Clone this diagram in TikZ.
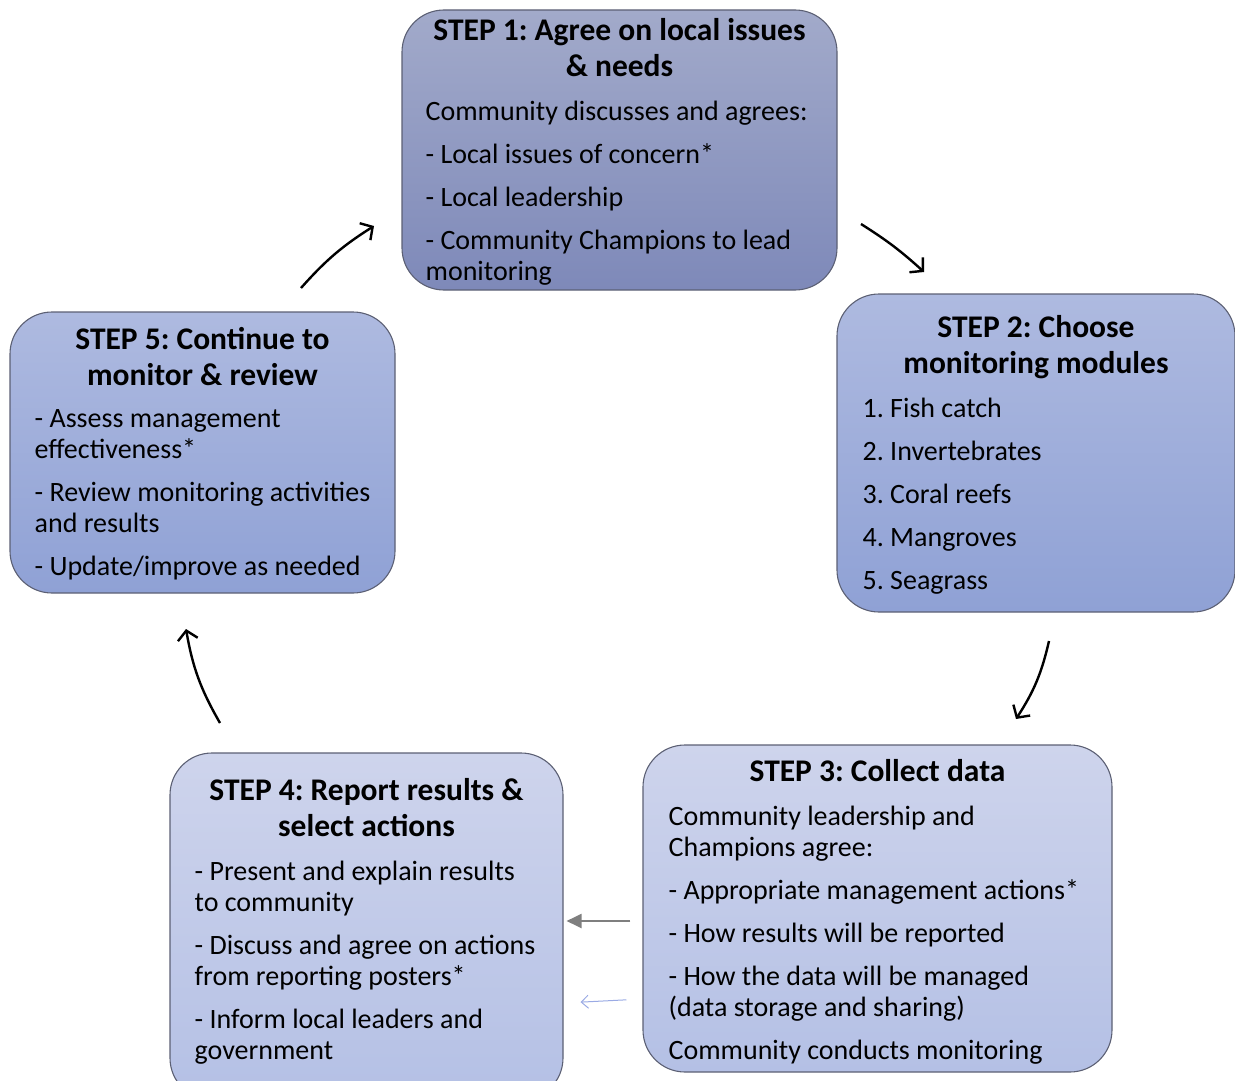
\documentclass[tikz,border=0pt]{standalone}
\usepackage{fontspec}
\setmainfont{Carlito}
\usetikzlibrary{positioning,arrows.meta}
\definecolor{boxline}{HTML}{5C6074}
\definecolor{deeptop}{HTML}{A2AACA}
\definecolor{deepbot}{HTML}{7E89B9}
\definecolor{midtop}{HTML}{AEBAE0}
\definecolor{midbot}{HTML}{8FA1D5}
\definecolor{paletop}{HTML}{CED4EC}
\definecolor{palebot}{HTML}{B4C0E5}
\definecolor{linkgrey}{HTML}{7F7F7F}
\definecolor{linkblue}{HTML}{9AAAE4}
\tikzset{
  stepbox/.style={
    rectangle, rounded corners=42pt,
    draw=boxline, line width=1.1pt
  },
  deepfill/.style={top color=deeptop, bottom color=deepbot},
  midfill/.style={top color=midtop, bottom color=midbot},
  palefill/.style={top color=paletop, bottom color=palebot},
  steptitle/.style={
    font=\fontsize{31.5}{36}\selectfont\bfseries\frenchspacing,
    align=center, inner sep=0pt, anchor=north
  },
  stepbody/.style={
    font=\fontsize{28}{31}\selectfont\frenchspacing,
    align=left, inner sep=0pt, anchor=north west
  },
  cyclearrow/.style={
    -{Straight Barb[length=9pt,width=20pt]},
    line width=2.4pt, black
  },
}

\begin{document}
\begin{tikzpicture}[x=1pt,y=-1pt]
  \useasboundingbox (0,0) rectangle (1235,1081);

  % the five steps
  \node[stepbox, deepfill, minimum width=435pt, minimum height=280pt] (s1) at (619.5,150) {};
  \node[stepbox, midfill, minimum width=398pt, minimum height=318pt] (s2) at (1036,453) {};
  \node[stepbox, palefill, minimum width=469pt, minimum height=327pt] (s3) at (877.5,908.5) {};
  \node[stepbox, palefill, minimum width=393pt, minimum height=347pt] (s4) at (366.5,926.5) {};
  \node[stepbox, midfill, minimum width=385pt, minimum height=281pt] (s5) at (202.5,452.5) {};

  % titles
  \node[steptitle, below=9pt of s1.north] (s1t) {STEP 1: Agree on local issues\\\& needs};
  \node[steptitle, below=22pt of s2.north] (s2t) {STEP 2: Choose\\monitoring modules};
  \node[steptitle, below=15pt of s3.north] (s3t) {STEP 3: Collect data};
  \node[steptitle, below=26pt of s4.north] (s4t) {STEP 4: Report results \&\\select actions};
  \node[steptitle, below=16pt of s5.north] (s5t) {STEP 5: Continue to\\monitor \& review};

  % contents
  \node[stepbody, below right=91pt and 24pt of s1.north west] (s1b) {Community discusses and agrees:\\[12pt]
    - Local issues of concern*\\[12pt]
    - Local leadership\\[12pt]
    - Community Champions to lead\\monitoring};
  \node[stepbody, below right=104pt and 26pt of s2.north west] (s2b) {1. Fish catch\\[12pt]
    2. Invertebrates\\[12pt]
    3. Coral reefs\\[12pt]
    4. Mangroves\\[12pt]
    5. Seagrass};
  \node[stepbody, below right=61pt and 26pt of s3.north west] (s3b) {Community leadership and\\Champions agree:\\[12pt]
    - Appropriate management actions*\\[12pt]
    - How results will be reported\\[12pt]
    - How the data will be managed\\(data storage and sharing)\\[12pt]
    Community conducts monitoring};
  \node[stepbody, below right=108pt and 25pt of s4.north west] (s4b) {- Present and explain results\\to community\\[12pt]
    - Discuss and agree on actions\\from reporting posters*\\[12pt]
    - Inform local leaders and\\government};
  \node[stepbody, below right=98pt and 25pt of s5.north west] (s5b) {- Assess management\\effectiveness*\\[12pt]
    - Review monitoring activities\\and results\\[12pt]
    - Update/improve as needed};

  % cycle arrows
  \coordinate (a51) at (301,288);
  \coordinate (a15) at (374,226);
  \coordinate (a12) at (861,224);
  \coordinate (a21) at (924,272);
  \coordinate (a23) at (1049,641);
  \coordinate (a32) at (1016,719);
  \coordinate (a45) at (220,723);
  \coordinate (a54) at (186,629);
  \draw[cyclearrow] (a51) to[bend left=8] (a15);
  \draw[cyclearrow] (a12) to[bend left=5] (a21);
  \draw[cyclearrow] (a23) to[bend left=10] (a32);
  \draw[cyclearrow] (a45) to[bend left=10] (a54);

  % links from step 3 back to step 4
  \draw[-{Triangle[length=15pt,width=14pt]}, line width=2pt, linkgrey,
    shorten <=12pt, shorten >=3pt] (s3.west |- 0,921) -- (s4.east |- 0,921);
  \draw[-{Straight Barb[length=7pt,width=13pt]}, line width=1pt, linkblue,
    shorten <=16pt, shorten >=17pt] (s3.west |- 0,999) -- (s4.east |- 0,1003);
\end{tikzpicture}
\end{document}
